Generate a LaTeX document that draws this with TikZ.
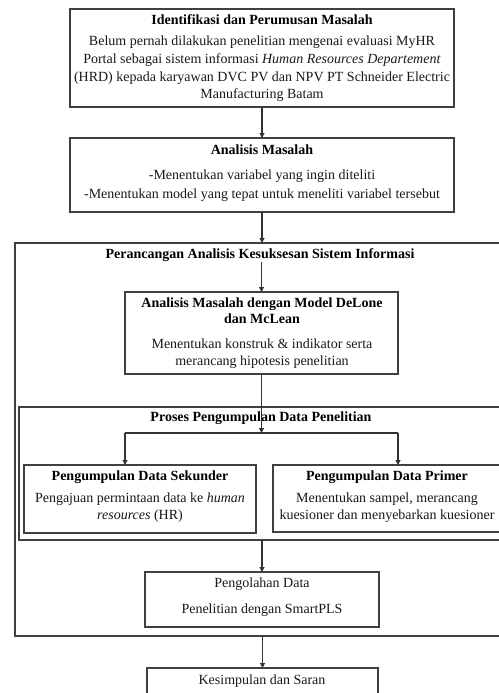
\documentclass[tikz,border=0pt]{standalone}
\usepackage{fontspec}
\setmainfont{Liberation Serif}
\usetikzlibrary{arrows.meta,fit}
\begin{document}
\begin{tikzpicture}[x=1bp,y=-1bp,
 box/.style={draw=black!75,line width=1.1bp,inner sep=0pt,outer sep=0pt,rectangle},
 txt/.style={font=\fontsize{14bp}{17bp}\selectfont,inner sep=0pt,text=black!90,anchor=mid},
 ttl/.style={inner sep=0pt,text=black,anchor=mid,font=\fontsize{14bp}{17bp}\selectfont\bfseries},
 arr/.style={draw=black!80,line width=1.1bp,-{Triangle[length=5bp,width=5bp]}},
 conn/.style={draw=black!80,line width=1.1bp},
]
\path[use as bounding box, clip] (0,0) rectangle (499,693);
\fill[white] (0,0) rectangle (499,693);

% boxes
\node[box,fit={(70,9) (454,107)}] (b1) {};
\node[box,fit={(70,138) (454,212)}] (b2) {};
\node[box,fit={(15,243) (560,636)}] (b3) {};
\node[box,fit={(125,292) (398,374)}] (b4) {};
\node[box,fit={(19,407) (555,540)}] (b5) {};
\node[box,fit={(24,465) (256,533)}] (b6) {};
\node[box,fit={(273,465) (501,532)}] (b7) {};
\node[box,fit={(145,572) (379,627)}] (b8) {};
\node[box,fit={(147,668) (378,720)}] (b9) {};

% texts
\node[ttl] (t1) at (262,22) {Identifikasi dan Perumusan Masalah};
\node[txt] (t1a) at (262,43) {Belum pernah dilakukan penelitian mengenai evaluasi MyHR};
\node[txt] (t1b) at (262,61) {Portal sebagai sistem informasi \textit{Human Resources Departement}};
\node[txt] (t1c) at (262,79) {(HRD) kepada karyawan DVC PV dan NPV PT Schneider Electric};
\node[txt] (t1d) at (262,96) {Manufacturing Batam};

\node[ttl] (t2) at (262,152) {Analisis Masalah};
\node[txt] (t2a) at (262,177) {-Menentukan variabel yang ingin diteliti};
\node[txt] (t2b) at (262,196) {-Menentukan model yang tepat untuk meneliti variabel tersebut};

\node[ttl] (t3) at (260,256) {Perancangan Analisis Kesuksesan Sistem Informasi};

\node[ttl] (t4) at (262,305) {Analisis Masalah dengan Model DeLone};
\node[ttl] (t4b) at (262,321) {dan McLean};
\node[txt] (t4c) at (262,346) {Menentukan konstruk \& indikator serta};
\node[txt] (t4d) at (262,363) {merancang hipotesis penelitian};

\node[ttl] (t5) at (261,419) {Proses Pengumpulan Data Penelitian};

\node[ttl] (t6) at (140,478) {Pengumpulan Data Sekunder};
\node[txt] (t6a) at (140,500) {Pengajuan permintaan data ke \textit{human}};
\node[txt] (t6b) at (140,517) {\textit{resources} (HR)};

\node[ttl] (t7) at (387,478) {Pengumpulan Data Primer};
\node[txt] (t7a) at (387,500) {Menentukan sampel, merancang};
\node[txt] (t7b) at (387,517) {kuesioner dan menyebarkan kuesioner};

\node[txt] (t8) at (262,585) {Pengolahan Data};
\node[txt] (t8a) at (262,611) {Penelitian dengan SmartPLS};

\node[txt] (t9) at (262,682) {Kesimpulan dan Saran};

% connectors
\coordinate (jl) at (125,433);
\coordinate (jr) at (398,433);
\draw[arr] (b1.south) -- (b2.north);
\draw[arr] (b2.south) -- (b2.south |- b3.north);
\draw[arr] (b4.north |- t3.south) -- (b4.north);
\draw[arr] (b4.south) -- (b4.south |- jl);
\draw[conn] (jl) -- (jr);
\draw[arr] (jl) -- (jl |- b6.north);
\draw[arr] (jr) -- (jr |- b7.north);
\draw[arr] (b8.north |- b5.south) -- (b8.north);
\draw[arr] (b9.north |- b3.south) -- (b9.north);
\end{tikzpicture}
\end{document}
